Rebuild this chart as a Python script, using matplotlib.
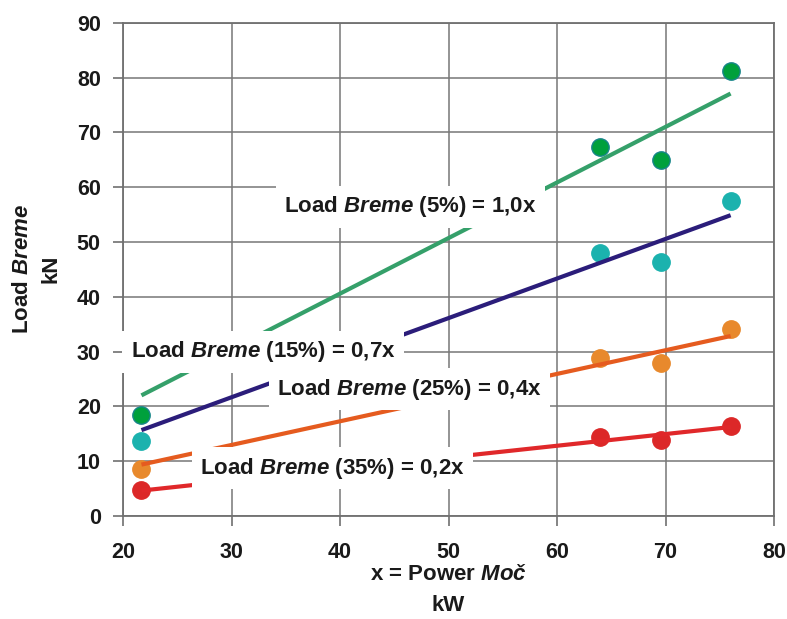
import numpy as np
import matplotlib
matplotlib.use("Agg")
import matplotlib.pyplot as plt

plt.rcParams['font.family'] = ['Liberation Sans', 'DejaVu Sans']
plt.rcParams['font.weight'] = 'bold'
plt.rcParams['mathtext.fontset'] = 'custom'
plt.rcParams['mathtext.it'] = 'Liberation Sans:italic:bold'
plt.rcParams['mathtext.rm'] = 'Liberation Sans:bold'
plt.rcParams['mathtext.bf'] = 'Liberation Sans:bold'

# data
power = [21.7, 64.0, 69.6, 76.0]
load_5 = [18.4, 67.3, 65.0, 81.2]
load_15 = [13.6, 48.0, 46.4, 57.5]
load_25 = [8.5, 28.8, 27.9, 34.1]
load_35 = [4.7, 14.5, 13.9, 16.4]
percents = ["5%", "15%", "25%", "35%"]
slope_labels = ["1,0", "0,7", "0,4", "0,2"]

point_colors = ['#00a03c', '#1bb2ae', '#e8892c', '#dc2828']
edge_colors = ['#17858a', '#1bb2ae', '#e8892c', '#dc2828']
line_colors = ['#35a06a', '#2b1d7a', '#e55b1f', '#e0282a']
# label centres (data coords)
label_pos = [(46.5, 56.4), (32.9, 30.0), (46.4, 23.1), (39.3, 8.7)]

fig = plt.figure(figsize=(7.87, 6.19), dpi=100)
ax = fig.add_axes([123 / 787, 1 - 516 / 619, (774 - 123) / 787, (516 - 22.7) / 619])

x = np.array(power)
for i, ys in enumerate([load_5, load_15, load_25, load_35]):
    y = np.array(ys)
    ax.plot(x, y, 'o', ms=12.5, color=point_colors[i], mec=edge_colors[i], mew=1, zorder=3)
    # trend line through origin
    k = np.sum(x * y) / np.sum(x * x)
    xx = np.array([x.min(), x.max()])
    ax.plot(xx, k * xx, '-', lw=3, color=line_colors[i], solid_capstyle='butt', zorder=4)
    txt = "Load $\\mathit{Breme}$ (" + percents[i] + ") = " + slope_labels[i] + "x"
    ax.text(label_pos[i][0], label_pos[i][1], txt, fontsize=16, fontweight='bold',
            ha='center', va='center', color='#1a1a1a', zorder=6,
            bbox=dict(boxstyle='square,pad=0.38', fc='white', ec='none'))

ax.set_xlim(20, 80)
ax.set_ylim(0, 90)
ax.set_xticks(range(20, 81, 10))
ax.set_yticks(range(0, 91, 10))
ax.grid(True, color='#777777', lw=1.1, zorder=0)
ax.set_axisbelow(True)
for s in ax.spines.values():
    s.set_color('#707070')
    s.set_linewidth(1.3)
ax.tick_params(axis='x', direction='out', length=7, width=1.2, color='#707070',
               labelsize=15.5, pad=12, labelcolor='#1a1a1a')
ax.tick_params(axis='y', direction='out', length=7, width=1.2, color='#707070',
               labelsize=15.5, pad=9, labelcolor='#1a1a1a')
for lab in ax.get_xticklabels() + ax.get_yticklabels():
    lab.set_fontweight('bold')

fig.text(37 / 787, 1 - 269 / 619, "Load $\\mathit{Breme}$\nkN", rotation=90,
         ha='center', va='center', fontsize=16, fontweight='bold', color='#1a1a1a',
         linespacing=1.5)
fig.text(448 / 787, 1 - 590 / 619, "x = Power $\\mathit{Moč}$\nkW",
         ha='center', va='center', fontsize=16, fontweight='bold', color='#1a1a1a',
         linespacing=1.6)

fig.savefig("out.png", dpi=100)
